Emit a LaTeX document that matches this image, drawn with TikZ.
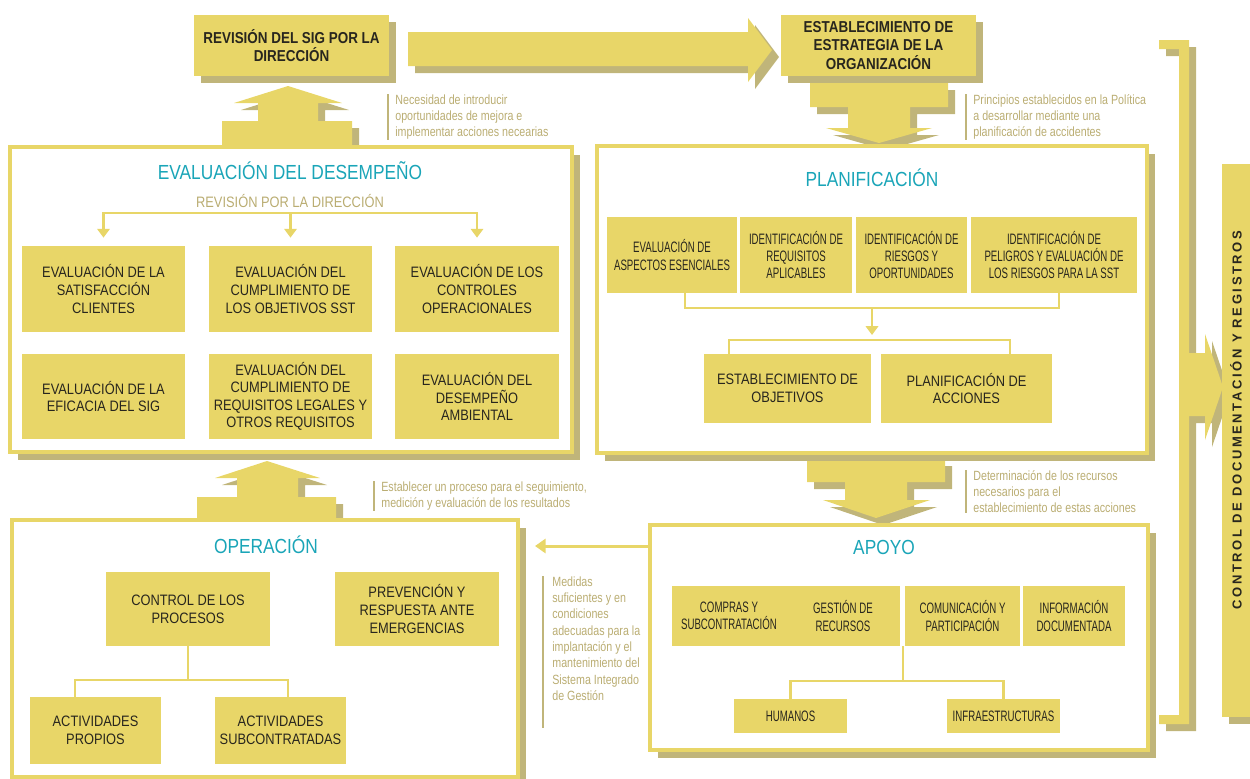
\documentclass[tikz,border=0pt]{standalone}
\usepackage{fontspec}
\setmainfont{Liberation Sans}
\newfontfamily\condfam[FakeStretch=0.85]{Liberation Sans}
\newfontfamily\narrowfam[FakeStretch=0.64]{Liberation Sans}
\newfontfamily\notefam[FakeStretch=0.8]{Liberation Sans}
\newfontfamily\spacedfam[LetterSpace=20]{Liberation Sans}
\usepackage{tikz}
\usetikzlibrary{arrows.meta, shadows, positioning}
\definecolor{sgyellow}{RGB}{232,214,104}
\definecolor{sgshadow}{RGB}{192,181,122}
\definecolor{sgteal}{RGB}{26,165,184}
\definecolor{sgnote}{RGB}{186,173,114}
\definecolor{sgdark}{RGB}{40,38,30}
\tikzset{sz/.style 2 args={minimum width=#1*0.02cm, minimum height=#2*0.02cm}}
\tikzstyle{castshadow} = [drop shadow={shadow xshift=0.14cm, shadow yshift=-0.14cm, fill=sgshadow, opacity=1}]
\tikzstyle{box} = [fill=sgyellow, text=sgdark, align=center, inner sep=0pt, font=\condfam\fontsize{8.6}{10}\selectfont]
\tikzstyle{nbox} = [box, font=\narrowfam\fontsize{8.6}{9.9}\selectfont]
\tikzstyle{headbox} = [box, castshadow, font=\condfam\bfseries\fontsize{9}{10.6}\selectfont]
\tikzstyle{panel} = [draw=sgyellow, line width=2.2pt, fill=white, inner sep=0pt, drop shadow={shadow xshift=0.16cm, shadow yshift=-0.16cm, fill=sgshadow, opacity=1}]
\tikzstyle{heading} = [text=sgteal, inner sep=0pt, font=\condfam\fontsize{11.6}{13}\selectfont]
\tikzstyle{subheading} = [text=sgnote, inner sep=0pt, font=\condfam\fontsize{8.6}{10}\selectfont]
\tikzstyle{note} = [text=sgnote, align=left, anchor=north west, inner sep=0pt, font=\notefam\fontsize{7.6}{9.3}\selectfont]
\tikzstyle{notebar} = [draw=sgshadow, line width=1.1pt]
\tikzstyle{link} = [draw=sgyellow, line width=1.5pt]
\tikzstyle{fork} = [link, -{Triangle[width=7pt,length=5pt]}]
\tikzstyle{feed} = [draw=sgyellow, line width=1.7pt, -{Triangle[width=8pt,length=6pt]}]
\tikzstyle{bigarrow} = [fill=sgyellow, castshadow]

\begin{document}
\begin{tikzpicture}[x=0.02cm, y=-0.02cm]
\useasboundingbox (0,0) rectangle (1250,778);

% block arrows between the stages
\path[bigarrow] (408,32) -- (748,32) -- (748,18) -- (772,50) -- (748,82) -- (748,66) -- (408,66) -- cycle;
\path[bigarrow] (222,147) -- (222,121) -- (258,121) -- (258,103) -- (234,103) -- (288,86) -- (342,103) -- (318,103) -- (318,121) -- (352,121) -- (352,147) -- cycle;
\path[bigarrow] (810,83) -- (948,83) -- (948,107) -- (910,107) -- (910,128) -- (932,128) -- (879,143) -- (826,128) -- (848,128) -- (848,107) -- (810,107) -- cycle;
\path[bigarrow] (807,459) -- (945,459) -- (945,482) -- (907,482) -- (907,500) -- (930,500) -- (876,518) -- (823,500) -- (845,500) -- (845,482) -- (807,482) -- cycle;
\path[bigarrow] (197,520) -- (197,497) -- (237,497) -- (237,478) -- (215,478) -- (267,461) -- (320,478) -- (298,478) -- (298,497) -- (336,497) -- (336,520) -- cycle;
% bracket on the right
\path[bigarrow] (1159,40) -- (1189,40) -- (1189,353) -- (1205,353) -- (1205,334) -- (1223,387) -- (1205,440) -- (1205,416) -- (1189,416) -- (1189,724) -- (1159,724) -- (1159,715) -- (1179,715) -- (1179,49) -- (1159,49) -- cycle;

\node[headbox, sz={195}{61}] (revision) at (291.5,45.5) {REVISIÓN DEL SIG POR LA\\DIRECCIÓN};
\node[headbox, sz={195}{61}] (estrategia) at (878.5,45.5) {ESTABLECIMIENTO DE\\ESTRATEGIA DE LA\\ORGANIZACIÓN};

\node[panel, sz={562}{305}] (evaluacion) at (291,299.5) {};
\node[panel, sz={550}{307}] (planificacion) at (872,299.5) {};
\node[panel, sz={506}{257}] (operacion) at (265,648.5) {};
\node[panel, sz={498}{225}] (apoyo) at (899,637.5) {};

% evaluacion del desempeno
\node[heading] (tEval) at (290,171) {EVALUACIÓN DEL DESEMPEÑO};
\node[subheading] (tRev) at (290,201) {REVISIÓN POR LA DIRECCIÓN};
\node[box, sz={163}{86}] (e1) at (103.5,289) {EVALUACIÓN DE LA\\SATISFACCIÓN\\CLIENTES};
\node[box, sz={163}{86}] (e2) at (290.5,289) {EVALUACIÓN DEL\\CUMPLIMIENTO DE\\LOS OBJETIVOS SST};
\node[box, sz={164}{86}] (e3) at (477,289) {EVALUACIÓN DE LOS\\CONTROLES\\OPERACIONALES};
\node[box, sz={163}{85}] (e4) at (103.5,396.5) {EVALUACIÓN DE LA\\EFICACIA DEL SIG};
\node[box, sz={163}{85}] (e5) at (290.5,396.5) {EVALUACIÓN DEL\\CUMPLIMIENTO DE\\REQUISITOS LEGALES Y\\OTROS REQUISITOS};
\node[box, sz={164}{85}] (e6) at (477,396.5) {EVALUACIÓN DEL\\DESEMPEÑO\\AMBIENTAL};
\coordinate (efork) at (288,213);
\draw[link, line cap=rect] (e1.north |- efork) -- (e3.north |- efork);
\foreach \b in {e1,e2,e3}
  \draw[fork, shorten >=0.16cm] (\b.north |- efork) -- (\b.north);

% planificacion
\node[heading] (tPlan) at (872,178) {PLANIFICACIÓN};
\node[nbox, sz={130}{76}] (p1) at (672,255) {EVALUACIÓN DE\\ASPECTOS ESENCIALES};
\node[nbox, sz={112}{76}] (p2) at (796,255) {IDENTIFICACIÓN DE\\REQUISITOS\\APLICABLES};
\node[nbox, sz={111}{76}] (p3) at (911.5,255) {IDENTIFICACIÓN DE\\RIESGOS Y\\OPORTUNIDADES};
\node[nbox, sz={166}{76}] (p4) at (1054,255) {IDENTIFICACIÓN DE\\PELIGROS Y EVALUACIÓN DE\\LOS RIESGOS PARA LA SST};
\coordinate (pl) at (685,308);
\coordinate (pr) at (1059,308);
\coordinate (pj) at (872,308);
\coordinate (pk) at (872,340);
\draw[link] (pl |- p1.south) -- (pl) -- (pr) -- (pr |- p4.south);
\draw[fork, shorten >=0.1cm] (pj) -- (pk);
\node[box, sz={167}{69}] (o1) at (787.5,388.5) {ESTABLECIMIENTO DE\\OBJETIVOS};
\node[box, sz={171}{69}] (o2) at (966.5,388.5) {PLANIFICACIÓN DE\\ACCIONES};
\coordinate (ol) at (729,340);
\coordinate (or) at (1010,340);
\draw[link] (ol |- o1.north) -- (ol) -- (or) -- (or |- o2.north);

% apoyo
\node[heading] (tApoyo) at (884,547) {APOYO};
\node[nbox, sz={115}{60}] (a1) at (729,616) {COMPRAS Y\\SUBCONTRATACIÓN};
\node[nbox, sz={115}{60}, right=-1pt of a1] (a2) {GESTIÓN DE\\RECURSOS};
\node[nbox, sz={115}{60}] (a3) at (962.5,616) {COMUNICACIÓN Y\\PARTICIPACIÓN};
\node[nbox, sz={102}{60}] (a4) at (1074,616) {INFORMACIÓN\\DOCUMENTADA};
\node[nbox, sz={113}{34}] (h1) at (790.5,716) {HUMANOS};
\node[nbox, sz={113}{34}] (h2) at (1003.5,716) {INFRAESTRUCTURAS};
\coordinate (aj) at (903,681);
\draw[link] (aj |- a2.south) -- (aj);
\draw[link] (h1.north) |- (aj) -| (h2.north);

% operacion
\node[heading] (tOper) at (266,545) {OPERACIÓN};
\node[box, sz={164}{74}] (c1) at (188,609) {CONTROL DE LOS\\PROCESOS};
\node[box, sz={164}{74}] (c2) at (417,609) {PREVENCIÓN Y\\RESPUESTA ANTE\\EMERGENCIAS};
\node[box, sz={131}{67}] (c3) at (95.5,730.5) {ACTIVIDADES\\PROPIOS};
\node[box, sz={131}{67}] (c4) at (280.5,730.5) {ACTIVIDADES\\SUBCONTRATADAS};
\coordinate (cl) at (75,680);
\coordinate (cr) at (288,680);
\draw[link] (c1.south) -- (c1.south |- cl);
\draw[link] (cl |- c3.north) -- (cl) -- (cr) -- (cr |- c4.north);

% apoyo feeds operacion
\coordinate (opin) at (535,546);
\draw[feed] (apoyo.west |- opin) -- (opin);

% control de documentacion
\node[box, castshadow, sz={28}{553}] (control) at (1236,440.5) {};
\node[rotate=90, text=sgdark, inner sep=0pt, font=\spacedfam\bfseries\fontsize{7.4}{9}\selectfont] (controltxt) at (1236,420) {CONTROL DE DOCUMENTACIÓN Y REGISTROS};

% side notes
\node[note] (n1) at (395,94) {Necesidad de introducir\\oportunidades de mejora e\\implementar acciones necearias};
\node[note] (n2) at (973,94) {Principios establecidos en la Política\\a desarrollar mediante una\\planificación de accidentes};
\node[note] (n3) at (381,481) {Establecer un proceso para el seguimiento,\\medición y evaluación de los resultados};
\node[note] (n4) at (973,470) {Determinación de los recursos\\necesarios para el\\establecimiento de estas acciones};
\node[note] (n5) at (552,576) {Medidas\\suficientes y en\\condiciones\\adecuadas para la\\implantación y el\\mantenimiento del\\Sistema Integrado\\de Gestión};
\foreach \n in {n1,n2,n3,n4}
  \draw[notebar] ([xshift=-0.14cm]\n.north west) -- ([xshift=-0.14cm]\n.south west);
\draw[notebar] ([xshift=-0.18cm]n5.north west) -- ++(0,152);
\end{tikzpicture}
\end{document}
